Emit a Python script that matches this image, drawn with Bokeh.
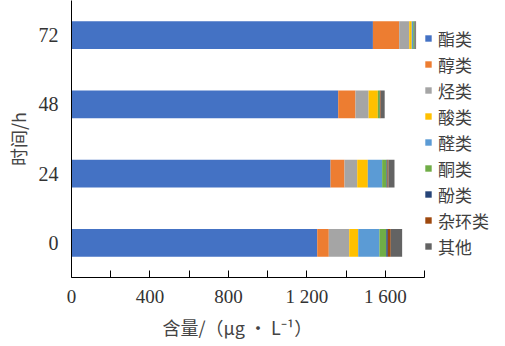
from bokeh.plotting import figure
from bokeh.models import Legend, LegendItem, FixedTicker, FactorRange, Range1d, Title
from bokeh.embed import file_html
from bokeh.resources import INLINE

times = ["0", "24", "48", "72"]
series = ["酯类", "醇类", "烃类", "酸类", "醛类", "酮类", "酚类", "杂环类", "其他"]
ester = [1253, 1321, 1360, 1537]
alcohol = [59, 71, 88, 134]
hydrocarbon = [104, 65, 67, 51]
acid = [46, 54, 47, 13]
aldehyde = [108, 73, 0, 7]
ketone = [35, 22, 10, 7]
phenol = [8, 5, 3, 2]
heterocycle = [15, 5, 3, 2]
other = [58, 31, 19, 4]
colors = ["#4472C4", "#ED7D31", "#A5A5A5", "#FFC000", "#5B9BD5",
          "#70AD47", "#264478", "#9E480E", "#636363"]
x_ticks = [0, 200, 400, 600, 800, 1000, 1200, 1400, 1600, 1800]
x_labels = {0: "0", 200: "", 400: "400", 600: "", 800: "800", 1000: "",
            1200: "1 200", 1400: "", 1600: "1 600", 1800: ""}
x_max = 1800

keys = ["s%d" % i for i in range(len(series))]
data = {"t": times}
for k, vals in zip(keys, [ester, alcohol, hydrocarbon, acid, aldehyde,
                          ketone, phenol, heterocycle, other]):
    data[k] = vals

W, H = 505, 346
left, axis_px = 71, 353
p = figure(width=W, height=H, y_range=FactorRange(*times),
           x_range=Range1d(0, x_max * (W - left) / axis_px), output_backend="svg",
           toolbar_location=None, min_border_left=left, min_border_right=0,
           min_border_top=0, min_border_bottom=69)
p.outline_line_color = None
p.xgrid.visible = False
p.ygrid.visible = False

renderers = p.hbar_stack(keys, y="t", height=0.4, color=colors, source=data,
                         line_color=None)

p.xaxis.bounds = (0, x_max)
p.xaxis.ticker = FixedTicker(ticks=x_ticks)
p.xaxis.major_label_overrides = x_labels
p.xaxis.minor_tick_line_color = None
p.xaxis.major_tick_in = 7
p.xaxis.major_tick_out = 0
p.xaxis.axis_line_color = "black"
p.xaxis.major_tick_line_color = "black"
p.xaxis.major_label_text_font = "Liberation Serif"
p.xaxis.major_label_text_font_size = "19px"
p.xaxis.major_label_text_color = "#333333"
p.xaxis.major_label_standoff = 8

xlabel = Title(text="含量/（μg • L⁻¹）", align="left", offset=91,
               text_font="Noto Sans CJK SC", text_font_style="normal",
               text_font_size="18px", text_color="#444444", standoff=4)
p.add_layout(xlabel, "below")

p.yaxis.major_tick_line_color = None
p.yaxis.minor_tick_line_color = None
p.yaxis.major_tick_in = 0
p.yaxis.major_tick_out = 0
p.yaxis.axis_line_color = "black"
p.yaxis.major_label_text_font = "Liberation Serif"
p.yaxis.major_label_text_font_size = "20px"
p.yaxis.major_label_text_color = "#333333"
p.yaxis.major_label_standoff = 13
p.yaxis.axis_label = "时间/h"
p.yaxis.axis_label_text_font = "Noto Sans CJK SC"
p.yaxis.axis_label_text_font_style = "normal"
p.yaxis.axis_label_text_font_size = "18px"
p.yaxis.axis_label_text_color = "#444444"
p.yaxis.axis_label_standoff = 5

items = [LegendItem(label=s, renderers=[r]) for s, r in zip(series, renderers)]
legend = Legend(items=items, location=(axis_px, 18), orientation="vertical",
                glyph_width=8, glyph_height=8, label_height=26, spacing=0,
                label_standoff=6, padding=0, margin=0,
                border_line_color=None, background_fill_alpha=0,
                label_text_font="Noto Sans CJK SC", label_text_font_size="17px",
                label_text_color="#404040")
p.add_layout(legend, "center")

open("out.html", "w").write(file_html(p, INLINE))
